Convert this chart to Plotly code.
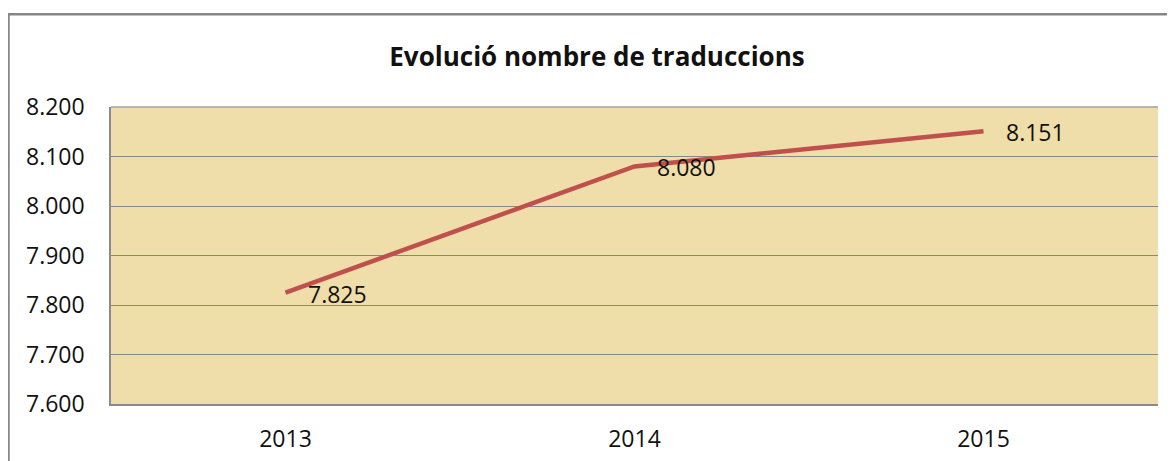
import plotly.graph_objects as go

years = ["2013", "2014", "2015"]
traduccions = [7825, 8080, 8151]
y_ticks = [7600, 7700, 7800, 7900, 8000, 8100, 8200]
title_text = "Evolució nombre de traduccions"

def fmt(v):
    return f"{v:,}".replace(",", ".")

xpos = list(range(len(years)))
FONT = "Open Sans, Lato, sans-serif"

# figure is placed at an 8px page offset; layout below is in figure pixels
L, T, R, B = 103, 99, 25, 65
PW, PH = 1175 - L - R, 461 - T - B

fig = go.Figure()
fig.add_trace(go.Scatter(
    x=xpos, y=traduccions, mode="lines",
    line=dict(color="#C0504D", width=4.5),
    hoverinfo="skip", showlegend=False,
))

for x, v in zip(xpos, traduccions):
    fig.add_annotation(
        x=x, y=v, text=fmt(v), showarrow=False,
        xanchor="left", yanchor="middle", xshift=20, yshift=-1,
        font=dict(family=FONT, size=23, color="#111111"),
    )

fig.update_layout(
    width=1175, height=461,
    margin=dict(l=L, r=R, t=T, b=B, autoexpand=False),
    paper_bgcolor="white",
    plot_bgcolor="#EFDDAA",
    title=dict(
        text=f"<b>{title_text}</b>",
        x=589 / 1175, xref="container", xanchor="center",
        y=1 - 49 / 461, yref="container", yanchor="middle",
        font=dict(family=FONT, size=26, color="#111111"),
    ),
    xaxis=dict(
        range=[-0.5, len(years) - 0.5], tickvals=xpos, ticktext=years,
        showgrid=False, zeroline=False, automargin=False,
        showline=True, linecolor="#8A8A8A", linewidth=1.5,
        ticks="outside", ticklen=14, tickcolor="rgba(0,0,0,0)",
        tickfont=dict(family=FONT, size=23, color="#111111"),
    ),
    yaxis=dict(
        range=[7600, 8200], tickvals=y_ticks, ticktext=[fmt(t) for t in y_ticks],
        showgrid=True, gridcolor="#888888", gridwidth=1, zeroline=False, automargin=False,
        showline=True, linecolor="#8A8A8A", linewidth=1.5,
        ticks="outside", ticklen=20, tickcolor="rgba(0,0,0,0)",
        tickfont=dict(family=FONT, size=23, color="#111111"),
    ),
)

# outer chart border (extends past right/bottom of the visible frame)
fig.add_shape(
    type="rect", xref="paper", yref="paper",
    x0=(0.5 - L) / PW, x1=1.2, y0=-0.5, y1=(PH + T - 6.3) / PH,
    line=dict(color="#868686", width=2.5), fillcolor="rgba(0,0,0,0)", layer="below",
)
# top border of plot area
fig.add_shape(
    type="line", xref="paper", yref="paper", x0=0, x1=1, y0=1, y1=1,
    line=dict(color="#A0A0A0", width=1.5),
)

fig.write_html("out.html")
